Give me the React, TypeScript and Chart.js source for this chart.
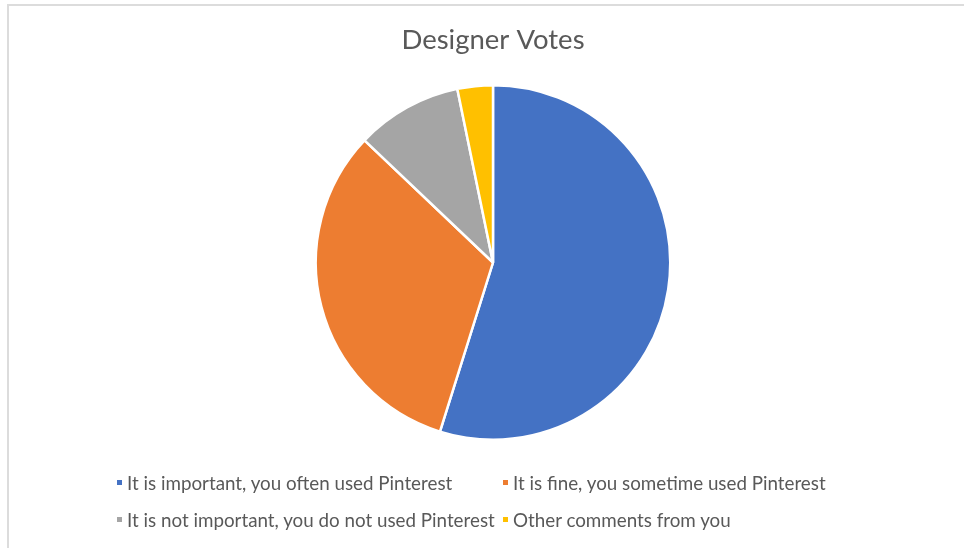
import React, { useEffect, useRef } from "react";
import { Chart, registerables } from "chart.js";

Chart.register(...registerables);

const titleText = "Designer Votes";
const labels = [
  "It is important, you often used Pinterest",
  "It is fine, you sometime used Pinterest",
  "It is not important, you do not used Pinterest",
  "Other comments from you",
];
const votes = [17, 10, 3, 1];
const colors = ["#4472C4", "#ED7D31", "#A5A5A5", "#FFC000"];
// legend grid: [column, row] for each label
const legendCols = [0, 1, 0, 1];
const legendRows = [0, 0, 1, 1];

const FONT = "Lato, 'Open Sans', sans-serif";
const TEXT = "#595959";

export default function App() {
  const ref = useRef<HTMLCanvasElement | null>(null);

  useEffect(() => {
    if (!ref.current) return;
    const chart = new Chart(ref.current, {
      type: "pie",
      data: {
        labels,
        datasets: [
          {
            data: votes,
            backgroundColor: colors,
            borderColor: "#ffffff",
            borderWidth: 2.5,
          },
        ],
      },
      options: {
        animation: false,
        responsive: false,
        maintainAspectRatio: false,
        layout: { padding: { top: 0, left: 22, right: 0, bottom: 107 } },
        plugins: {
          legend: { display: false },
          tooltip: { enabled: false },
          title: {
            display: true,
            text: titleText,
            color: TEXT,
            font: { family: FONT, size: 27.5, weight: "normal", lineHeight: 1.2 },
            padding: { top: 24, bottom: 27 },
          },
        },
      },
    });
    return () => chart.destroy();
  }, []);

  const colX = [117, 503];
  const rowY = [482, 519];

  return (
    <div style={{ position: "absolute", left: 0, top: 0, width: 964, height: 548, background: "#fff", overflow: "hidden" }}>
      <div
        style={{
          position: "absolute",
          left: 7,
          top: 4,
          width: 2000,
          height: 2000,
          borderLeft: "2px solid #dcdcdc",
          borderTop: "2px solid #dcdcdc",
        }}
      />
      <canvas ref={ref} width={964} height={548} style={{ position: "absolute", left: 0, top: 0, width: 964, height: 548 }} />
      {labels.map((l, i) => (
        <div
          key={l}
          style={{
            position: "absolute",
            left: colX[legendCols[i]],
            top: rowY[legendRows[i]] - 12,
            height: 24,
            display: "flex",
            alignItems: "center",
            whiteSpace: "nowrap",
            fontFamily: FONT,
            fontSize: 18.8,
            color: TEXT,
          }}
        >
          <span style={{ display: "inline-block", width: 5, height: 5, background: colors[i], marginRight: 5 }} />
          <span>{l}</span>
        </div>
      ))}
    </div>
  );
}
